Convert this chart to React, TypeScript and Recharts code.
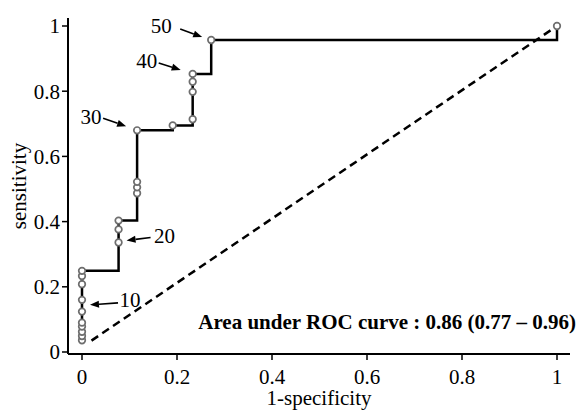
import { LineChart, Line, XAxis, YAxis, ReferenceDot, Customized } from "recharts"

// ROC points (1-specificity, sensitivity)
const fpr = [0, 0, 0, 0, 0, 0, 0, 0, 0, 0, 0.077, 0.077, 0.077, 0.116, 0.116, 0.116, 0.116, 0.191, 0.233, 0.233, 0.233, 0.233, 0.272, 1]
const tpr = [0.036, 0.049, 0.062, 0.078, 0.09, 0.124, 0.16, 0.208, 0.233, 0.249, 0.336, 0.376, 0.403, 0.487, 0.505, 0.522, 0.68, 0.695, 0.714, 0.798, 0.829, 0.853, 0.957, 1]

const diagX = [0.02, 1]
const diagY = [0.035, 1]

const ticks = [0, 0.2, 0.4, 0.6, 0.8, 1]

// cut-off labels and the point index they point at
const cutLabels = ["10", "20", "30", "40", "50"]
const cutIndex = [6, 10, 16, 21, 22]

const aucText = "Area under ROC curve : 0.86 (0.77 – 0.96)"

const rocData = fpr.map((x, i) => ({ x, y: tpr[i] }))
const diagData = diagX.map((x, i) => ({ x, y: diagY[i] }))

const FONT = "Liberation Serif"

// arrow/text offsets in px relative to the target point
const offsets: Record<string, { tail: number[]; tip: number[]; text: number[] }> = {
  "10": { tail: [36, 3], tip: [8, 5], text: [48, 7] },
  "20": { tail: [32, -5], tip: [8, -2], text: [46, 1] },
  "30": { tail: [-34, -12], tip: [-11, -4], text: [-46, -6] },
  "40": { tail: [-34, -11], tip: [-12, -4], text: [-46, -6] },
  "50": { tail: [-31, -11], tip: [-9, -3], text: [-50, -7] },
}

function Arrow(props: any) {
  const { cx, cy, name } = props
  const o = offsets[name]
  const x1 = cx + o.tail[0]
  const y1 = cy + o.tail[1]
  const x2 = cx + o.tip[0]
  const y2 = cy + o.tip[1]
  const a = Math.atan2(y2 - y1, x2 - x1)
  const len = 9
  const w = 3.5
  const bx = x2 - len * Math.cos(a)
  const by = y2 - len * Math.sin(a)
  const px = -Math.sin(a) * w
  const py = Math.cos(a) * w
  return (
    <g>
      <line x1={x1} y1={y1} x2={bx} y2={by} stroke="#000" strokeWidth={1.6} />
      <polygon points={`${x2},${y2} ${bx + px},${by + py} ${bx - px},${by - py}`} fill="#000" />
      <text x={cx + o.text[0]} y={cy + o.text[1]} textAnchor="middle" fontSize={21} style={{ fontFamily: FONT }} fill="#000">
        {name}
      </text>
    </g>
  )
}

function AucLabel() {
  return (
    <text x={576} y={329} textAnchor="end" fontSize={21} fontWeight="bold" style={{ fontFamily: FONT }} fill="#000">
      {aucText}
    </text>
  )
}

export default function App() {
  return (
    <div style={{ position: "absolute", left: 0, top: 0, background: "#fff", fontFamily: FONT }}>
      <LineChart width={579} height={415} data={rocData} margin={{ top: 18, right: 9, bottom: 6, left: 0 }} style={{ fontFamily: FONT }}>
        <XAxis
          type="number"
          dataKey="x"
          domain={[0, 1]}
          ticks={ticks}
          padding={{ left: 14, right: 13 }}
          height={55}
          axisLine={{ stroke: "#000", strokeWidth: 2 }}
          tickLine={{ stroke: "#000", strokeWidth: 1.5 }}
          tickSize={6}
          tickMargin={9}
          tick={{ fontSize: 21, fill: "#000", style: { fontFamily: FONT } }}
          label={{ value: "1-specificity", position: "insideBottom", offset: 4, fontSize: 21, fill: "#000", style: { fontFamily: FONT } }}
        />
        <YAxis
          type="number"
          dataKey="y"
          domain={[0, 1]}
          ticks={ticks}
          padding={{ top: 8, bottom: 2 }}
          width={68}
          axisLine={{ stroke: "#000", strokeWidth: 2 }}
          tickLine={{ stroke: "#000", strokeWidth: 1.5 }}
          tickSize={6}
          tickMargin={2}
          tick={{ fontSize: 21, fill: "#000", style: { fontFamily: FONT } }}
          label={{
            value: "sensitivity",
            angle: -90,
            position: "insideLeft",
            offset: 19,
            fontSize: 21,
            fill: "#000",
            style: { textAnchor: "middle", fontFamily: FONT },
          }}
        />
        <Line
          data={diagData}
          dataKey="y"
          type="linear"
          stroke="#000"
          strokeWidth={2.5}
          strokeDasharray="8 5"
          dot={false}
          activeDot={false}
          isAnimationActive={false}
        />
        <Line
          dataKey="y"
          type="stepAfter"
          stroke="#000"
          strokeWidth={2.5}
          dot={{ r: 3.3, fill: "#fff", stroke: "#6e6e6e", strokeWidth: 1.7 }}
          activeDot={false}
          isAnimationActive={false}
        />
        {cutLabels.map((lab, i) => (
          <ReferenceDot
            key={lab}
            x={fpr[cutIndex[i]]}
            y={tpr[cutIndex[i]]}
            r={0}
            shape={(p: any) => <Arrow {...p} name={lab} />}
          />
        ))}
        <Customized component={AucLabel} />
      </LineChart>
    </div>
  )
}
